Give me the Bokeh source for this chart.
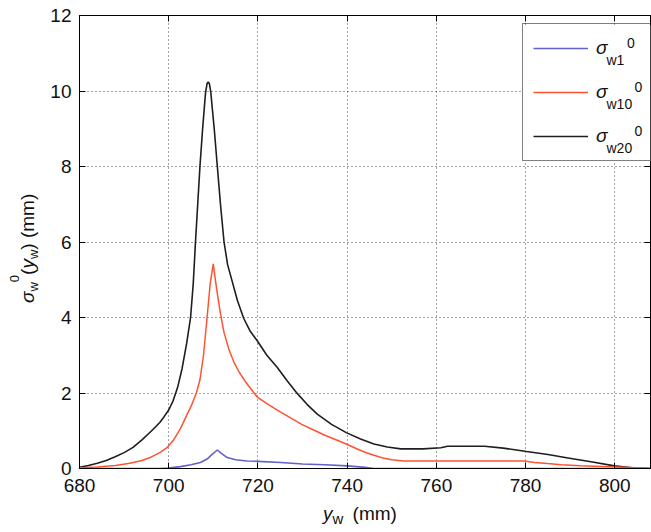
import math
from bokeh.plotting import figure
from bokeh.models import (Range1d, LinearAxis, FixedTicker, Legend, LegendItem, Label,
                          BoxAnnotation, Div)
from bokeh.layouts import column, row
from bokeh.embed import file_html
from bokeh.resources import INLINE

x_ticks = [680, 700, 720, 740, 760, 780, 800]
y_ticks = [0, 2, 4, 6, 8, 10, 12]

# sigma_w20^0
x_w20 = [680, 682, 684, 686, 688, 690, 692, 694, 696, 698, 699, 700, 701, 702,
         703, 704, 704.9, 705.5, 706, 706.5, 707, 707.6, 708.25, 708.6, 708.85,
         709.1, 709.4, 709.8, 710.2, 710.9, 711.6, 712.4, 713.2, 714.2, 715.4,
         716.8, 718.2, 719.8, 722, 724.3, 726.5, 728.8, 731, 733.3, 736.5, 739.8,
         743, 746, 749, 752, 757, 761, 762.5, 770.8, 775, 780.2, 785, 789.5,
         795, 799.9, 804.4, 808]
s_w20 = [0.03, 0.08, 0.14, 0.21, 0.31, 0.42, 0.56, 0.76, 0.98, 1.22, 1.38, 1.55,
         1.8, 2.15, 2.65, 3.3, 4.0, 4.9, 6.0, 7.0, 8.0, 9.0, 9.95, 10.2, 10.24,
         10.2, 10.0, 9.5, 9.0, 8.0, 7.0, 6.0, 5.4, 4.97, 4.45,
         3.98, 3.65, 3.39, 3.0, 2.68, 2.33, 1.99, 1.7, 1.44, 1.17, 0.95,
         0.78, 0.65, 0.57, 0.52, 0.52, 0.55, 0.59, 0.59, 0.54, 0.45, 0.37, 0.28,
         0.17, 0.07, 0.01, 0.0]

# sigma_w10^0
x_w10 = [680, 684, 688, 691, 694, 696, 698, 699.7, 701, 702.6, 704, 705.2,
         706.2, 707, 707.8, 708.6, 709.3, 709.98, 710.4, 710.9, 711.6, 712.4,
         713.5, 714.6, 715.8, 717.2, 718.5, 719.8, 722, 725, 727.5, 729.8, 732.5,
         735, 737.5, 739.8, 742, 744, 746, 748, 750, 752.7, 760, 770, 779.6, 782,
         784.9, 788, 792.3, 797, 802, 806, 808]
s_w10 = [0.02, 0.04, 0.08, 0.13, 0.21, 0.3, 0.42, 0.56, 0.74, 1.05, 1.4, 1.7,
         2.0, 2.35, 3.0, 4.0, 4.9, 5.42, 5.05, 4.63, 4.1, 3.6,
         3.15, 2.82, 2.55, 2.3, 2.1, 1.9, 1.72, 1.5, 1.33, 1.17, 1.02,
         0.88, 0.76, 0.65, 0.53, 0.43, 0.35, 0.28, 0.23, 0.2, 0.2, 0.2, 0.2, 0.16,
         0.13, 0.1, 0.07, 0.05, 0.03, 0.01, 0.0]

# sigma_w1^0
x_w1 = [680, 698, 700, 702.6, 705, 707.1, 708.6, 709.6, 710.9, 711.8, 713.1, 715,
        717.6, 720, 725.1, 730, 735, 740, 744, 746, 808]
s_w1 = [0.0, 0.0, 0.01, 0.05, 0.1, 0.16, 0.25, 0.36, 0.49, 0.4, 0.29, 0.23,
        0.2, 0.19, 0.16, 0.12, 0.1, 0.07, 0.03, 0.0, 0.0]

legend_subs = ["w1", "w10", "w20"]

BLUE = "#6262c8"
RED = "#ff5233"
BLACK = "#1e1e1e"
FONT = "Liberation Sans"
TXT = "#111111"

# layout: [ylabel div | figure] over [xlabel div]
YW = 40                 # width of y-label column
XH = 32                 # height of x-label row
W, H = 651 - YW, 532 - XH
ML, MR, MT, MB = 39, 1, 15, 32
X0, X1, Y0, Y1 = 680, 808, 0, 12

p = figure(width=W, height=H, output_backend="svg", toolbar_location=None,
           x_range=Range1d(X0, X1), y_range=Range1d(Y0, Y1),
           min_border_left=ML, min_border_right=MR, min_border_top=MT,
           min_border_bottom=MB, margin=0)
p.background_fill_color = "white"
p.border_fill_color = "white"
p.outline_line_color = "black"

xt = FixedTicker(ticks=x_ticks)
yt = FixedTicker(ticks=y_ticks)

for ax, tk in ((p.xaxis[0], xt), (p.yaxis[0], yt)):
    ax.ticker = tk
    ax.major_tick_in = 6
    ax.major_tick_out = 0
    ax.minor_tick_in = 0
    ax.minor_tick_out = 0
    ax.axis_line_color = "black"
    ax.major_tick_line_color = "black"
    ax.major_label_text_font = FONT
    ax.major_label_text_font_size = "19px"
    ax.major_label_text_color = TXT
p.xaxis[0].major_label_standoff = 10
p.yaxis[0].major_label_standoff = 8

top = LinearAxis(ticker=xt, major_tick_in=6, major_tick_out=0, minor_tick_in=0,
                 minor_tick_out=0, major_label_standoff=0,
                 major_label_overrides={t: "" for t in x_ticks},
                 major_label_text_font_size="1px")
p.add_layout(top, "above")
p.extra_y_ranges = {"r": Range1d(Y0, Y1)}
right = LinearAxis(y_range_name="r", ticker=yt, major_tick_in=6, major_tick_out=0,
                   minor_tick_in=0, minor_tick_out=0, major_label_standoff=0,
                   major_label_overrides={t: "" for t in y_ticks},
                   major_label_text_font_size="1px")
p.add_layout(right, "right")

for g, tk in ((p.xgrid[0], xt), (p.ygrid[0], yt)):
    g.ticker = tk
    g.grid_line_color = "#222222"
    g.grid_line_dash = "1 3"
    g.grid_line_width = 1
    g.grid_line_alpha = 0.85

r20 = p.line(x_w20, s_w20, line_color=BLACK, line_width=1.6)
r10 = p.line(x_w10, s_w10, line_color=RED, line_width=1.5)
r1 = p.line(x_w1, s_w1, line_color=BLUE, line_width=1.6)

# page pixel -> data (page frame left = YW + ML)
FW = W - ML - MR
FH = H - MT - MB
PL = YW + ML


def dx(px):
    return X0 + (px - PL) * (X1 - X0) / FW


def dy(py):
    return Y0 + (MT + FH - py) * (Y1 - Y0) / FH


# white backing of the legend box (hides the grid)
p.add_layout(BoxAnnotation(left=dx(522), right=X1, top=dy(25), bottom=dy(161),
                           fill_color="white", fill_alpha=1.0, line_color=None))

legend = Legend(items=[LegendItem(label="σ", renderers=[r1]),
                       LegendItem(label="σ", renderers=[r10]),
                       LegendItem(label="σ", renderers=[r20])],
                location=(443, 307), orientation="vertical", margin=0,
                padding=10, spacing=16, glyph_width=55, glyph_height=28,
                label_height=28, label_width=70, label_standoff=8,
                border_line_color="black", border_line_width=1,
                background_fill_alpha=0,
                label_text_font=FONT, label_text_font_size="19px",
                label_text_font_style="italic", label_text_color=TXT)
p.add_layout(legend)


def lab(px, py, text, size="14px"):
    p.add_layout(Label(x=dx(px), y=dy(py), text=text, text_font=FONT,
                       text_font_size=size, text_color=TXT,
                       text_align="left", text_baseline="alphabetic"))


sup_x = [626.5, 634, 634]
for i, s in enumerate(legend_subs):
    cy = 49 + 44 * i
    lab(606, cy + 10, s)
    lab(sup_x[i], cy - 7, "0")

SUB = 'style="font-size:13px;line-height:0;vertical-align:-4px;"'
SUP = 'style="font-size:13px;line-height:0;vertical-align:15px;"'
ylab_html = (
    '<div style="position:relative;width:%dpx;height:%dpx;">'
    '<div style="position:absolute;left:15px;top:303px;transform-origin:0 0;'
    'transform:rotate(-90deg);white-space:nowrap;font-family:\'Liberation Sans\';'
    'font-size:19px;line-height:19px;color:#111111;">'
    '<i>σ</i><span %s>w</span><span %s>0</span>(<i>y</i><span %s>w</span>) (mm)'
    '</div></div>' % (YW, H, SUB, SUP, SUB))

XSUB = 'style="font-size:15px;line-height:0;vertical-align:-4px;"'
xlab_html = (
    '<div style="position:relative;width:651px;height:%dpx;">'
    '<div style="position:absolute;left:323px;top:4px;white-space:nowrap;'
    'font-family:\'Liberation Sans\';font-size:19px;line-height:19px;color:#111111;">'
    '<i>y</i><span %s>w</span><span style="padding-left:4px;"> (mm)</span>'
    '</div></div>' % (XH, XSUB))

ydiv = Div(text=ylab_html, width=YW, height=H, margin=0)
xdiv = Div(text=xlab_html, width=651, height=XH, margin=0)

layout = column(row(ydiv, p, spacing=0, margin=0), xdiv, spacing=0, margin=0)

open("out.html", "w").write(file_html(layout, INLINE))
